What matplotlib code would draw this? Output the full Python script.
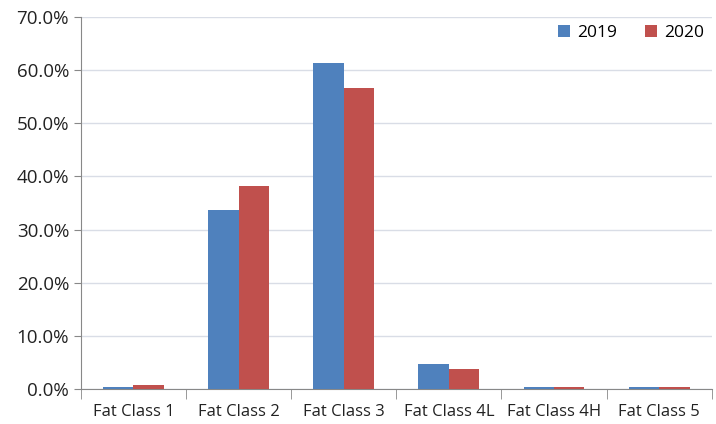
import numpy as np
import matplotlib.pyplot as plt
from matplotlib.ticker import PercentFormatter, FixedLocator

categories = ['Fat Class 1', 'Fat Class 2', 'Fat Class 3', 'Fat Class 4L', 'Fat Class 4H', 'Fat Class 5']
share_2019 = [0.3, 33.6, 61.4, 4.7, 0.3, 0.3]
share_2020 = [0.7, 38.2, 56.7, 3.8, 0.3, 0.3]
years = ['2019', '2020']
colors = ['#4F81BD', '#C0504D']

plt.rcParams['font.family'] = ['Open Sans', 'DejaVu Sans']

fig = plt.figure(figsize=(7.16, 4.24), dpi=100)
ax = fig.add_axes([0.113, 0.0825, 0.881, 0.8775])

x = np.arange(len(categories))
w = 0.29
ax.bar(x - w / 2, share_2019, w, color=colors[0], label=years[0], zorder=3)
ax.bar(x + w / 2, share_2020, w, color=colors[1], label=years[1], zorder=3)

ax.set_xlim(-0.5, len(categories) - 0.5)
ax.set_ylim(0, 70)
ax.set_yticks(np.arange(0, 71, 10))
ax.yaxis.set_major_formatter(PercentFormatter(decimals=1))
ax.grid(axis='y', color='#D9DDE6', linewidth=1, zorder=0)

ax.set_xticks(x)
ax.set_xticklabels(categories, fontsize=12, color='#222222')
ax.tick_params(axis='x', which='major', length=0, pad=11)
ax.xaxis.set_minor_locator(FixedLocator(np.arange(-0.5, len(categories), 1)))
ax.tick_params(axis='x', which='minor', length=7, color='#888888')
ax.tick_params(axis='y', length=5, color='#888888', labelsize=13.5, labelcolor='#222222')

for s in ['top', 'right']:
    ax.spines[s].set_visible(False)
for s in ['left', 'bottom']:
    ax.spines[s].set_color('#888888')

ax.legend(loc='upper right', bbox_to_anchor=(1.012, 1.02), ncol=2, frameon=False,
          fontsize=12.5, handlelength=0.7, handleheight=0.7, handletextpad=0.4, columnspacing=1.6)

fig.savefig('out.png', dpi=100)
